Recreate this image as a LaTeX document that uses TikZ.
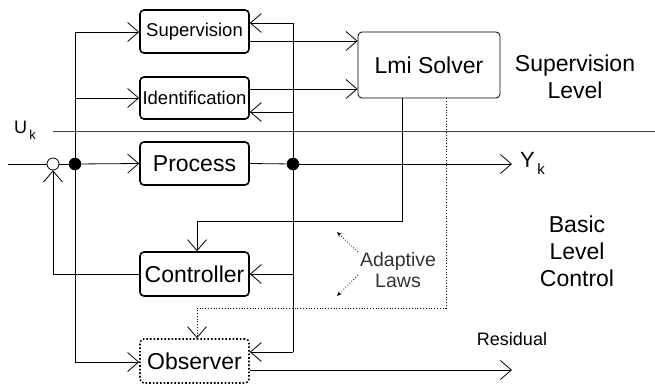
\documentclass[tikz,border=0pt]{standalone}
\usepackage{fontspec}
\setmainfont{Liberation Sans}
\usetikzlibrary{arrows.meta}
\tikzset{
  blk/.style={draw, line width=1.6bp, rounded corners=4bp, minimum width=109bp, inner sep=0pt, font=\fontsize{23bp}{26bp}\selectfont},
  sblk/.style={blk, font=\fontsize{18.5bp}{21bp}\selectfont},
  conn/.style={line width=0.8bp},
  arr/.style={conn, -{Straight Barb[length=11bp,width=19bp,line width=0.8bp]}},
  lbl/.style={font=\fontsize{23bp}{27bp}\selectfont, align=center, inner sep=0pt},
  dotline/.style={line width=0.8bp, dotted},
}
\begin{document}
\begin{tikzpicture}[x=1bp,y=-1bp]
\useasboundingbox (0,0) rectangle (655,385);
% blocks
\node[sblk, minimum height=43bp] (sup) at (194.5,31.5) {Supervision};
\node[sblk, minimum height=42bp] (ide) at (194.5,98) {Identification};
\node[blk, minimum height=43bp] (pro) at (194.5,163.5) {Process};
\node[blk, minimum height=44bp] (con) at (194.5,274) {Controller};
\node[blk, minimum height=44bp, dotted] (obs) at (194.5,361) {Observer};
\node[draw, line width=0.8bp, rounded corners=4bp, minimum width=142bp, minimum height=66bp, inner sep=0pt, font=\fontsize{23bp}{26bp}\selectfont] (lmi) at (429,65) {Lmi Solver};
% summing junction and dots
\node[draw, circle, line width=0.8bp, minimum size=12bp, inner sep=0pt, fill=white] (sum) at (53,164) {};
\node[circle, fill=black, minimum size=12.5bp, inner sep=0pt] (d1) at (75,164) {};
\node[circle, fill=black, minimum size=12.5bp, inner sep=0pt] (d2) at (293,164) {};
% coordinates
\coordinate (in) at (8,164);
\coordinate (yk) at (512,164);
\coordinate (res) at (512,370);
\coordinate (lt) at (75,32);
\coordinate (lb) at (75,362);
\coordinate (rt) at (293,23);
\coordinate (rb) at (293,352);
\coordinate (uks) at (53,131);
\coordinate (uke) at (655,131);
% U_k line
\draw[line width=0.6bp, black!75] (uks) -- (uke);
% input path
\draw[conn] (in) -- (sum.west);
\draw[conn] (sum.east) -- (d1);
\draw[arr] (d1) -- (pro.west);
\draw[conn] (pro.east) -- (d2);
\draw[arr] (d2) -- (yk);
% left distribution
\draw[conn] (lt) -- (lb);
\draw[arr] (lt) -- (sup.west |- lt);
\draw[arr] (75,98) -- (ide.west);
\draw[arr] (lb) -- (obs.west |- lb);
% right distribution
\draw[conn] (rt) -- (rb);
\draw[arr] (rt) -- (sup.east |- rt);
\draw[arr] (293,112) -- (ide.east |- 0,112);
\draw[arr] (293,274) -- (con.east);
\draw[arr] (rb) -- (obs.east |- rb);
% to lmi solver
\draw[arr] (sup.east |- 0,41) -- (lmi.west |- 0,41);
\draw[arr] (ide.east |- 0,89) -- (lmi.west |- 0,89);
% lmi to controller / observer
\draw[arr] (lmi.south -| 402,0) -- (402,221) -- (197,221) -- (con.north -| 197,0);
\draw[dotline, -{Straight Barb[length=11bp,width=19bp,line width=0.8bp]}] (lmi.south -| 446,0) -- (446,308) -- (197,308) -- (obs.north -| 197,0);
% feedback
\draw[arr] (con.west) -- (53,274) -- (sum.south);
% residual
\draw[arr] (obs.east |- 0,370) -- (res);
% labels
\node[font=\fontsize{18bp}{20bp}\selectfont, inner sep=0pt] (uk) at (25,130) {U\raisebox{-6bp}{\fontsize{13bp}{14bp}\selectfont\,k}};
\node[font=\fontsize{22bp}{24bp}\selectfont, inner sep=0pt, anchor=west] (ykl) at (520,163) {Y\raisebox{-7bp}{\fontsize{15bp}{16bp}\selectfont\,k}};
\node[lbl] (supl) at (575,77) {Supervision\\Level};
\node[lbl] (basl) at (577,251) {Basic\\Level\\Control};
\node[font=\fontsize{18bp}{20bp}\selectfont, inner sep=0pt] (resl) at (512,339) {Residual};
\node[font=\fontsize{19.5bp}{21bp}\selectfont, align=center, inner sep=0pt, black!80] (adl) at (398,270) {Adaptive\\Laws};
\coordinate (a1) at (337,232);
\coordinate (a2) at (337,296);
\draw[dotline, -{Stealth[length=5bp,width=4bp]}] (358,252) -- (a1);
\draw[dotline, -{Stealth[length=5bp,width=4bp]}] (358,275) -- (a2);
\end{tikzpicture}
\end{document}
